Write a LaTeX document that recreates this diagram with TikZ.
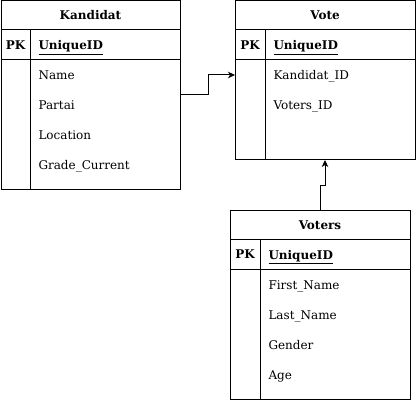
\documentclass[tikz,border=0pt]{standalone}
\usepackage{fontspec}
\setmainfont{DejaVu Serif}
\usepackage{tikz}
\usetikzlibrary{positioning,arrows.meta,calc}

\begin{document}
\begin{tikzpicture}[
  x=1pt, y=1pt,
  font=\fontsize{12}{14}\selectfont,
  line width=1pt,
  %% Table styles
  tblhead/.style = {draw, font=\fontsize{12}{14}\selectfont\bfseries,
                    minimum height=29pt, inner sep=0pt, outer sep=0pt},
  pkcell/.style  = {draw, font=\fontsize{12}{14}\selectfont\bfseries,
                    minimum width=29pt, minimum height=30pt,
                    inner sep=0pt, outer sep=0pt},
  idcell/.style  = {draw, font=\fontsize{12}{14}\selectfont\bfseries,
                    minimum height=30pt, inner sep=0pt, outer sep=0pt},
  bodycell/.style= {draw, inner sep=0pt, outer sep=0pt},
  idtxt/.style   = {anchor=base west, inner sep=0pt,
                    font=\fontsize{12}{14}\selectfont\bfseries},
  fld/.style     = {anchor=base west, inner sep=0pt},
  arr/.style     = {-{Stealth[length=7pt,width=6.5pt,inset=2pt]}, line width=1pt},
]
\useasboundingbox (0,0) rectangle (416,401);

%% ── Kandidat table ─────────────────────────────────────────────
\node[tblhead, minimum width=179pt] (kandT) at (90.5,385.5) {Kandidat};
\node[pkcell, anchor=north west] (kandPK) at (kandT.south west) {PK};
\node[idcell, minimum width=150pt, anchor=north west] (kandID) at (kandPK.north east) {};
\node[idtxt] (kandIDt) at ([xshift=8pt,yshift=-5pt]kandID.west) {\underline{UniqueID}};
\node[bodycell, minimum width=29pt, minimum height=130pt, anchor=north west]
  (kandL) at (kandPK.south west) {};
\node[bodycell, minimum width=150pt, minimum height=130pt, anchor=north west]
  (kandR) at (kandL.north east) {};
\node[fld] (kandF1) at (38,321) {Name};
\node[fld] (kandF2) at (38,291) {Partai};
\node[fld] (kandF3) at (38,261) {Location};
\node[fld] (kandF4) at (38,231) {Grade\_Current};

%% ── Vote table ─────────────────────────────────────────────────
\node[tblhead, minimum width=180pt] (voteT) at (325,385.5) {Vote};
\node[pkcell, minimum width=30pt, anchor=north west] (votePK) at (voteT.south west) {PK};
\node[idcell, minimum width=150pt, anchor=north west] (voteID) at (votePK.north east) {};
\node[idtxt] (voteIDt) at ([xshift=8pt,yshift=-5pt]voteID.west) {\underline{UniqueID}};
\node[bodycell, minimum width=30pt, minimum height=100pt, anchor=north west]
  (voteL) at (votePK.south west) {};
\node[bodycell, minimum width=150pt, minimum height=100pt, anchor=north west]
  (voteR) at (voteL.north east) {};
\node[fld] (voteF1) at (273,321) {Kandidat\_ID};
\node[fld] (voteF2) at (273,291) {Voters\_ID};

%% ── Voters table ───────────────────────────────────────────────
\node[tblhead, minimum width=180pt] (votersT) at (320,176) {Voters};
\node[pkcell, minimum width=30pt, anchor=north west] (votersPK) at (votersT.south west) {PK};
\node[idcell, minimum width=150pt, anchor=north west] (votersID) at (votersPK.north east) {};
\node[idtxt] (votersIDt) at ([xshift=8pt,yshift=-5pt]votersID.west) {\underline{UniqueID}};
\node[bodycell, minimum width=30pt, minimum height=130pt, anchor=north west]
  (votersL) at (votersPK.south west) {};
\node[bodycell, minimum width=150pt, minimum height=130pt, anchor=north west]
  (votersR) at (votersL.north east) {};
\node[fld] (votersF1) at (268,111) {First\_Name};
\node[fld] (votersF2) at (268,81) {Last\_Name};
\node[fld] (votersF3) at (268,51) {Gender};
\node[fld] (votersF4) at (268,21) {Age};

%% ── Connectors ─────────────────────────────────────────────────
\draw[arr] ([yshift=-35pt]kandR.north east) -- ++(28pt,0) |- ($(voteL.west |- voteF1.base)+(0,5pt)$);
\draw[arr] (votersT.north) -- ++(0,25pt) -| (voteT |- voteR.south);

\end{tikzpicture}
\end{document}
